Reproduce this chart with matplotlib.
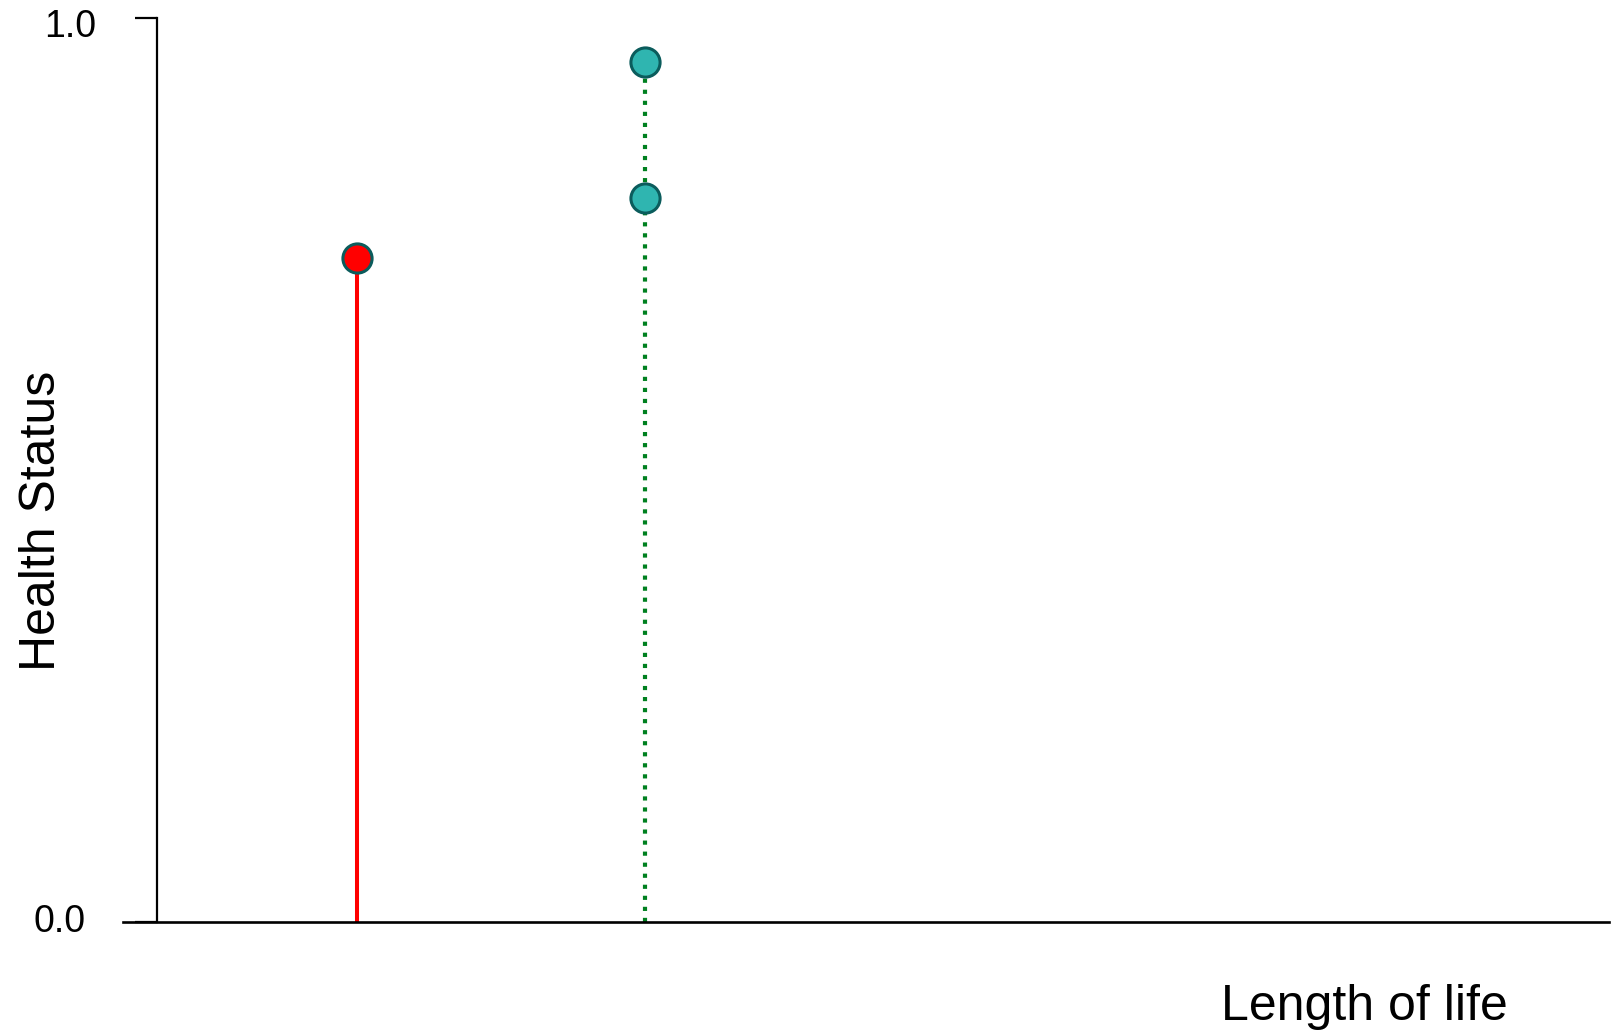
import numpy as np
import matplotlib.pyplot as plt
import matplotlib.transforms as mtransforms

plt.rcParams['font.family'] = ['Liberation Sans', 'DejaVu Sans']

# data
red_x = [1.38]
red_y = [0.735]
teal_x = [3.36, 3.36]
teal_y = [0.951, 0.801]
y_ticks = [0.0, 1.0]
y_tick_labels = ["0.0", "1.0"]

fig = plt.figure(figsize=(16.15, 10.31), dpi=100)
ax = fig.add_axes([123 / 1615, 1 - 922 / 1031, (1609 - 123) / 1615, (922 - 18) / 1031])

# stems
ax.vlines(red_x, 0, red_y, color="#ff0000", lw=2.9, zorder=2)
ax.vlines(teal_x[0], 0, max(teal_y), color="#008020", lw=3.0, linestyles=":", zorder=2)

ax.plot(red_x, red_y, "o", ms=21, mfc="#ff0000", mec="#0b5c5c", mew=2.2, zorder=3, clip_on=False)
ax.plot(teal_x, teal_y, "o", ms=21, mfc="#2fb5b0", mec="#0b5c5c", mew=2.2, zorder=3, clip_on=False)

ax.set_xlim(-0.234, 10)
ax.set_ylim(0, 1)

for s in ["top", "right"]:
    ax.spines[s].set_visible(False)
ax.spines["left"].set_position(("data", 0))
ax.spines["left"].set_linewidth(1.6)
ax.spines["bottom"].set_linewidth(1.9)

ax.set_xticks([])
ax.set_yticks(y_ticks)
ax.set_yticklabels(y_tick_labels, fontsize=27)
ax.tick_params(axis="y", length=16, width=1.6, pad=28)

# nudge tick labels to where they sit in the reference
lbls = ax.get_yticklabels()
lbls[0].set_transform(lbls[0].get_transform() + mtransforms.ScaledTranslation(-0.10, 0.04, fig.dpi_scale_trans))
lbls[1].set_transform(lbls[1].get_transform() + mtransforms.ScaledTranslation(0, -0.05, fig.dpi_scale_trans))

fig.text(42 / 1615, 1 - 521 / 1031, "Health Status", rotation=90, fontsize=36,
         ha="center", va="center")
fig.text(1221 / 1615, 1 - 1007 / 1031, "Length of life", fontsize=36,
         ha="left", va="center")

fig.savefig("out.png", dpi=100)
